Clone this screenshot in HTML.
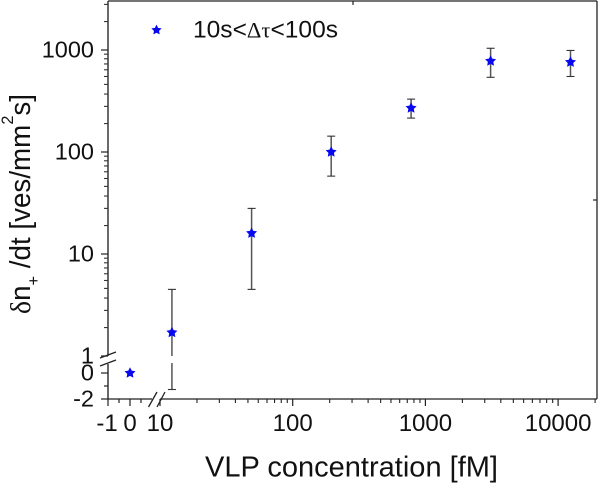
<!DOCTYPE html>
<html>
<head>
<meta charset="utf-8">
<style>
html,body{margin:0;padding:0;background:#fff;width:600px;height:483px;overflow:hidden}
svg{display:block}
text{font-family:"Liberation Sans",Arial,sans-serif;fill:#111}
.sym{font-family:"Liberation Serif","DejaVu Serif",serif}
</style>
</head>
<body>
<svg id="chart" width="600" height="483" viewBox="0 0 600 483">
<g id="axes"></g>
<g id="marks"></g>
<g>
<g id="legend-mark"></g>
<text x="193" y="37.7" font-size="24" textLength="145" lengthAdjust="spacingAndGlyphs">10s&lt;<tspan class="sym" font-size="22">Δτ</tspan>&lt;100s</text>
</g>
<text x="205" y="476.5" font-size="29" textLength="293" lengthAdjust="spacingAndGlyphs">VLP concentration [fM]</text>
<text transform="translate(30,314) rotate(-90)" font-size="29" textLength="220" lengthAdjust="spacingAndGlyphs"><tspan class="sym">δ</tspan>n<tspan font-size="17" dy="9">+</tspan><tspan dy="-9"> /dt [ves/mm</tspan><tspan font-size="17" dy="-17">2</tspan><tspan dy="17">s]</tspan></text>
</svg>
<script>
const concentrations = [0, 12.3, 49, 195, 780, 3100, 12400];
const rates = [0, 1.7, 16, 100, 270, 780, 760];
const errorUpper = [0, 4.5, 28, 143, 330, 1040, 990];
const errorLower = [0, -1.27, 4.5, 58, 215, 540, 550];
const xTickLabels = [-1, 0, 10, 100, 1000, 10000];
const yTickLabels = [-2, 0, 1, 10, 100, 1000];
const xLowTicks = [-0.5, 0.5];
const yLowTicks = [-1];

const NS = 'http://www.w3.org/2000/svg';
const axesG = document.getElementById('axes');
const marksG = document.getElementById('marks');
const LEFT = 108, RIGHT = 597, TOP = 1, BOTTOM = 399;
const AXIS_COLOR = '#222';

function xScale(v) {
  return v >= 10 ? 160 + 132.7 * Math.log10(v / 10) : 130 + 22 * v;
}
function yScale(v) {
  return v >= 1 ? 356 - 102 * Math.log10(v) : 373 - 13 * v;
}
function line(parent, x1, y1, x2, y2, color, width, name) {
  const el = document.createElementNS(NS, 'line');
  el.setAttribute('x1', x1);
  el.setAttribute('y1', y1);
  el.setAttribute('x2', x2);
  el.setAttribute('y2', y2);
  el.setAttribute('stroke', color);
  el.setAttribute('stroke-width', width);
  
  
  parent.appendChild(el);
  return el;
}
function label(parent, x, y, str, anchor, size, name) {
  const el = document.createElementNS(NS, 'text');
  el.setAttribute('x', x);
  el.setAttribute('y', y);
  el.setAttribute('font-size', size);
  el.setAttribute('text-anchor', anchor);
  
  
  el.textContent = str;
  parent.appendChild(el);
}
function star(parent, cx, cy, r, name) {
  const pts = [];
  for (let i = 0; i < 10; i++) {
    const rad = i % 2 ? r * 0.5 : r;
    const a = -Math.PI / 2 + i * Math.PI / 5;
    pts.push((cx + rad * Math.cos(a)).toFixed(2) + ',' + (cy + rad * Math.sin(a)).toFixed(2));
  }
  const el = document.createElementNS(NS, 'polygon');
  el.setAttribute('points', pts.join(' '));
  el.setAttribute('fill', '#0808f0');
  
  
  parent.appendChild(el);
}

/* frame */
line(axesG, LEFT, TOP, RIGHT, TOP, AXIS_COLOR, 1.3, 'top-axis');
line(axesG, RIGHT, TOP, RIGHT, BOTTOM, AXIS_COLOR, 1.3, 'right-axis');
line(axesG, LEFT, TOP, LEFT, 356, '#444', 1.6, 'y-axis-upper');
line(axesG, LEFT, 364, LEFT, BOTTOM, '#444', 1.6, 'y-axis-lower');
line(axesG, LEFT, BOTTOM, 152, BOTTOM, AXIS_COLOR, 1.3, 'x-axis-lower');
line(axesG, 160, BOTTOM, RIGHT, BOTTOM, AXIS_COLOR, 1.3, 'x-axis-upper');
line(axesG, 353, TOP, 353, 5, AXIS_COLOR, 1.2, 'top-tick');
line(axesG, 593, 200, RIGHT, 200, AXIS_COLOR, 1.2, 'right-tick');

/* break marks */
line(axesG, 100, 358, 116, 352, AXIS_COLOR, 1.3, 'y-break-mark-upper');
line(axesG, 100, 366, 116, 360, AXIS_COLOR, 1.3, 'y-break-mark-lower');
line(axesG, 148.5, 407, 157, 392, AXIS_COLOR, 1.3, 'x-break-mark-left');
line(axesG, 157, 407, 165, 392, AXIS_COLOR, 1.3, 'x-break-mark-right');

/* x ticks */
xTickLabels.forEach(function (v) {
  const x = xScale(v);
  line(axesG, x, BOTTOM, x, BOTTOM + 7, AXIS_COLOR, 1.2, 'x-tick');
  label(axesG, v === -1 ? x - 1 : x, 431, String(v), 'middle', 24, 'x-tick-label');
});
xLowTicks.forEach(function (v) {
  const x = xScale(v);
  line(axesG, x, BOTTOM, x, BOTTOM + 4, AXIS_COLOR, 1.2, 'x-minor-tick');
});
/* y ticks */
yTickLabels.forEach(function (v) {
  const y = yScale(v);
  line(axesG, LEFT - 7, y, LEFT, y, AXIS_COLOR, 1.2, 'y-tick');
  label(axesG, 94, y + 7.5, String(v), 'end', 23.5, 'y-tick-label');
});
yLowTicks.forEach(function (v) {
  const y = yScale(v);
  line(axesG, LEFT - 4, y, LEFT, y, AXIS_COLOR, 1.2, 'y-minor-tick');
});
/* log minor ticks: the original axis divides each decade in ten linear steps of 0.9 */
[10, 100, 1000, 10000].forEach(function (d) {
  for (let k = 1; k < 10; k++) {
    const x = xScale(d * (1 + 0.9 * k));
    if (x < RIGHT) line(axesG, x, BOTTOM, x, BOTTOM + 4, AXIS_COLOR, 1.1, 'x-minor-tick');
  }
});
[1, 10, 100, 1000].forEach(function (d) {
  for (let k = 1; k < 10; k++) {
    const y = yScale(d * (1 + 0.9 * k));
    if (y > TOP) line(axesG, LEFT - 4, y, LEFT, y, '#333', 1.1, 'y-minor-tick');
  }
});

/* data */
concentrations.forEach(function (c, i) {
  const x = xScale(c);
  const hi = errorUpper[i], lo = errorLower[i];
  if (hi !== lo) {
    const yHi = yScale(hi), yLo = yScale(lo);
    if (lo < 1 && hi >= 1) {
      line(marksG, x, yHi, x, 356, '#555', 1.5, 'error-bar');
      line(marksG, x, 363, x, yLo, '#555', 1.5, 'error-bar');
    } else {
      line(marksG, x, yHi, x, yLo, '#555', 1.5, 'error-bar');
    }
    line(marksG, x - 4, yHi, x + 4, yHi, '#333', 1.1, 'error-cap-upper');
    line(marksG, x - 4, yLo, x + 4, yLo, '#333', 1.1, 'error-cap-lower');
  }
  star(marksG, x, yScale(rates[i]), 5.8, 'data-point');
});
star(document.getElementById('legend-mark'), 156.5, 30, 5.4, 'legend-star');
</script>
</body>
</html>
